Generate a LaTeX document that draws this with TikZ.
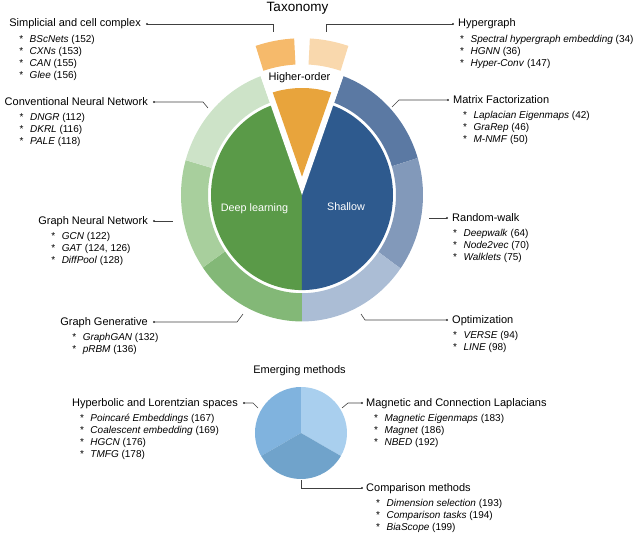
\documentclass[tikz,border=0pt]{standalone}
\usepackage{fontspec}
\setmainfont{Liberation Sans}
\usepackage{tikz}
\usetikzlibrary{positioning}

\definecolor{DeepGreen}{HTML}{5A9A48}
\definecolor{ShallowBlue}{HTML}{2E5A8E}
\definecolor{HigherOrange}{HTML}{E8A43C}
\definecolor{SimplOrange}{HTML}{F6BA6B}
\definecolor{HyperOrange}{HTML}{F9D8AD}
\definecolor{MatrixBlue}{HTML}{5B79A3}
\definecolor{WalkBlue}{HTML}{8299BA}
\definecolor{OptBlue}{HTML}{ABBDD5}
\definecolor{GenGreen}{HTML}{83B877}
\definecolor{GnnGreen}{HTML}{A8CF9D}
\definecolor{ConvGreen}{HTML}{CDE3C8}
\definecolor{MagBlue}{HTML}{A9CFEE}
\definecolor{HypBlue}{HTML}{80B3DE}
\definecolor{CmpBlue}{HTML}{70A3CB}

\tikzset{
	cat/.style={ % category labels
			font=\fontsize{11}{13}\selectfont,
			inner sep=0pt,
			text height=8pt,
			text depth=2pt
		},
	items/.style={ % method lists under a category
			font=\fontsize{10}{11.8}\selectfont,
			inner sep=0pt,
			align=left,
			anchor=north west
		},
	lead/.style={draw=black!75, line width=0.6pt},
	pin/.style={fill=black!80},
	inlabel/.style={font=\fontsize{10.8}{13}\selectfont, anchor=base, inner sep=0pt}
}
\newcommand{\itm}[2]{*\hspace{6.5pt}\textit{#1} (#2)}

\begin{document}
\begin{tikzpicture}[x=1pt, y=1pt]
			\useasboundingbox (-302,-341) rectangle (338,195);

			% Taxonomy wheel
			\begin{scope}[yscale=1.045]
				\fill[DeepGreen] (0,0) -- (90:91) arc[start angle=90, end angle=270, radius=91] -- cycle;
				\fill[ShallowBlue] (0,0) -- (-90:91) arc[start angle=-90, end angle=90, radius=91] -- cycle;
				% outer ring
				\fill[MatrixBlue] (17:94) arc[start angle=17, end angle=70, radius=94] -- (70:121) arc[start angle=70, end angle=17, radius=121] -- cycle;
				\fill[WalkBlue] (-35.5:94) arc[start angle=-35.5, end angle=17, radius=94] -- (17:121) arc[start angle=17, end angle=-35.5, radius=121] -- cycle;
				\fill[OptBlue] (-90:94) arc[start angle=-90, end angle=-35.5, radius=94] -- (-35.5:121) arc[start angle=-35.5, end angle=-90, radius=121] -- cycle;
				\fill[GenGreen] (215:94) arc[start angle=215, end angle=270, radius=94] -- (270:121) arc[start angle=270, end angle=215, radius=121] -- cycle;
				\fill[GnnGreen] (164:94) arc[start angle=164, end angle=215, radius=94] -- (215:121) arc[start angle=215, end angle=164, radius=121] -- cycle;
				\fill[ConvGreen] (110:94) arc[start angle=110, end angle=164, radius=94] -- (164:121) arc[start angle=164, end angle=110, radius=121] -- cycle;
				% higher-order wedge
				\fill[white] (0,0) -- (70:130) arc[start angle=70, end angle=110, radius=130] -- cycle;
				\fill[HigherOrange] (0,17.5) -- (73.4:102.4) arc[start angle=73.4, end angle=106.6, radius=102.4] -- cycle;
				\fill[SimplOrange] (93:125) arc[start angle=93, end angle=108, radius=125] -- (108:150) arc[start angle=108, end angle=93, radius=150] -- cycle;
				\fill[HyperOrange] (72:125) arc[start angle=72, end angle=87, radius=125] -- (87:150) arc[start angle=87, end angle=72, radius=150] -- cycle;
			\end{scope}

			% Emerging methods pie
			\begin{scope}[shift={(-1,-238)}]
				\fill[MagBlue] (0,0) -- (-30:46) arc[start angle=-30, end angle=90, radius=46] -- cycle;
				\fill[HypBlue] (0,0) -- (90:46) arc[start angle=90, end angle=210, radius=46] -- cycle;
				\fill[CmpBlue] (0,0) -- (210:46) arc[start angle=210, end angle=330, radius=46] -- cycle;
			\end{scope}

			% Titles
			\node[font=\fontsize{13.5}{16}\selectfont, anchor=base, inner sep=0pt] (tax) at (-4.5,183.5) {Taxonomy};
			\node[font=\fontsize{11}{13}\selectfont, anchor=base, inner sep=0pt] (emerg) at (-2.5,-178) {Emerging methods};
			\node[inlabel, font=\fontsize{11}{13}\selectfont] (hord) at (-2.5,114.5) {Higher-order};
			\node[inlabel, white] (deep) at (-47.5,-16) {Deep learning};
			\node[inlabel, white] (shal) at (44,-15.5) {Shallow};

			% Ends of the leader lines
			\coordinate (scdot) at (-155,171);
			\coordinate (scend) at (-29,163);
			\coordinate (hgdot) at (151,171);
			\coordinate (hgend) at (24,163);
			\coordinate (cnndot) at (-148,93);
			\coordinate (cnnend) at (-94,87);
			\coordinate (mfdot) at (146,95);
			\coordinate (mfend) at (90,88);
			\coordinate (gnndot) at (-148,-26);
			\coordinate (gnnend) at (-129,-26);
			\coordinate (rwdot) at (145,-23);
			\coordinate (rwend) at (127,-23);
			\coordinate (optdot) at (145,-125);
			\coordinate (optend) at (59,-119);
			\coordinate (ggdot) at (-148,-127);
			\coordinate (ggend) at (-59,-119);
			\coordinate (hypdot) at (-58,-208);
			\coordinate (hypend) at (-44,-213);
			\coordinate (magdot) at (60,-208);
			\coordinate (magend) at (40,-213);
			\coordinate (cmpdot) at (60,-293);
			\coordinate (cmpend) at (-1,-285);

			% Category labels
			\node[cat, left=6pt of scdot] (sc) {Simplicial and cell complex};
			\node[items, below right=6pt and 10pt of sc.south west] (scl) {\itm{BScNets}{152}\\\itm{CXNs}{153}\\\itm{CAN}{155}\\\itm{Glee}{156}};
			\node[cat, right=5pt of hgdot] (hg) {Hypergraph};
			\node[items, below right=6pt and 2pt of hg.south west] (hgl) {\itm{Spectral hypergraph embedding}{34}\\\itm{HGNN}{36}\\\itm{Hyper-Conv}{147}};
			\node[cat, left=6pt of cnndot] (cnn) {Conventional Neural Network};
			\node[items, below right=6pt and 15pt of cnn.south west] (cnnl) {\itm{DNGR}{112}\\\itm{DKRL}{116}\\\itm{PALE}{118}};
			\node[cat, right=5pt of mfdot] (mf) {Matrix Factorization};
			\node[items, below right=6pt and 10pt of mf.south west] (mfl) {\itm{Laplacian Eigenmaps}{42}\\\itm{GraRep}{46}\\\itm{M-NMF}{50}};
			\node[cat, left=6pt of gnndot] (gnn) {Graph Neural Network};
			\node[items, below right=6pt and 13pt of gnn.south west] (gnnl) {\itm{GCN}{122}\\\itm{GAT}{124, 126}\\\itm{DiffPool}{128}};
			\node[cat, right=5pt of rwdot] (rw) {Random-walk};
			\node[items, below right=6pt and 1pt of rw.south west] (rwl) {\itm{Deepwalk}{64}\\\itm{Node2vec}{70}\\\itm{Walklets}{75}};
			\node[cat, right=5pt of optdot] (opt) {Optimization};
			\node[items, below right=6pt and 1pt of opt.south west] (optl) {\itm{VERSE}{94}\\\itm{LINE}{98}};
			\node[cat, left=6pt of ggdot] (gg) {Graph Generative};
			\node[items, below right=6pt and 12pt of gg.south west] (ggl) {\itm{GraphGAN}{132}\\\itm{pRBM}{136}};
			\node[cat, left=6pt of hypdot] (hyp) {Hyperbolic and Lorentzian spaces};
			\node[items, below right=6pt and 8pt of hyp.south west] (hypl) {\itm{Poincaré Embeddings}{167}\\\itm{Coalescent embedding}{169}\\\itm{HGCN}{176}\\\itm{TMFG}{178}};
			\node[cat, right=4pt of magdot] (mag) {Magnetic and Connection Laplacians};
			\node[items, below right=6pt and 8pt of mag.south west] (magl) {\itm{Magnetic Eigenmaps}{183}\\\itm{Magnet}{186}\\\itm{NBED}{192}};
			\node[cat, right=4pt of cmpdot] (cmp) {Comparison methods};
			\node[items, below right=6pt and 10pt of cmp.south west] (cmpl) {\itm{Dimension selection}{193}\\\itm{Comparison tasks}{194}\\\itm{BiaScope}{199}};

			% Leader lines
			\draw[lead] (scend) |- (scdot);
			\draw[lead] (hgend) |- (hgdot);
			\draw[lead] (cnnend) -- ++(-5,6) -- (cnndot);
			\draw[lead] (mfend) -- ++(7,7) -- (mfdot);
			\draw[lead] (gnnend) -- (gnndot);
			\draw[lead] (rwend) -- (rwdot);
			\draw[lead] (optend) -- ++(4,-6) -- (optdot);
			\draw[lead] (ggend) -- ++(-6,-8) -- (ggdot);
			\draw[lead] (hypend) -- ++(-5,5) -- (hypdot);
			\draw[lead] (magend) -- ++(6,5) -- (magdot);
			\draw[lead] (cmpend) |- (cmpdot);
			\foreach \d in {scdot, hgdot, cnndot, mfdot, gnndot, rwdot, optdot, ggdot, hypdot, magdot, cmpdot}
				\fill[pin] (\d) circle (1.2pt);

		\end{tikzpicture}
\end{document}
